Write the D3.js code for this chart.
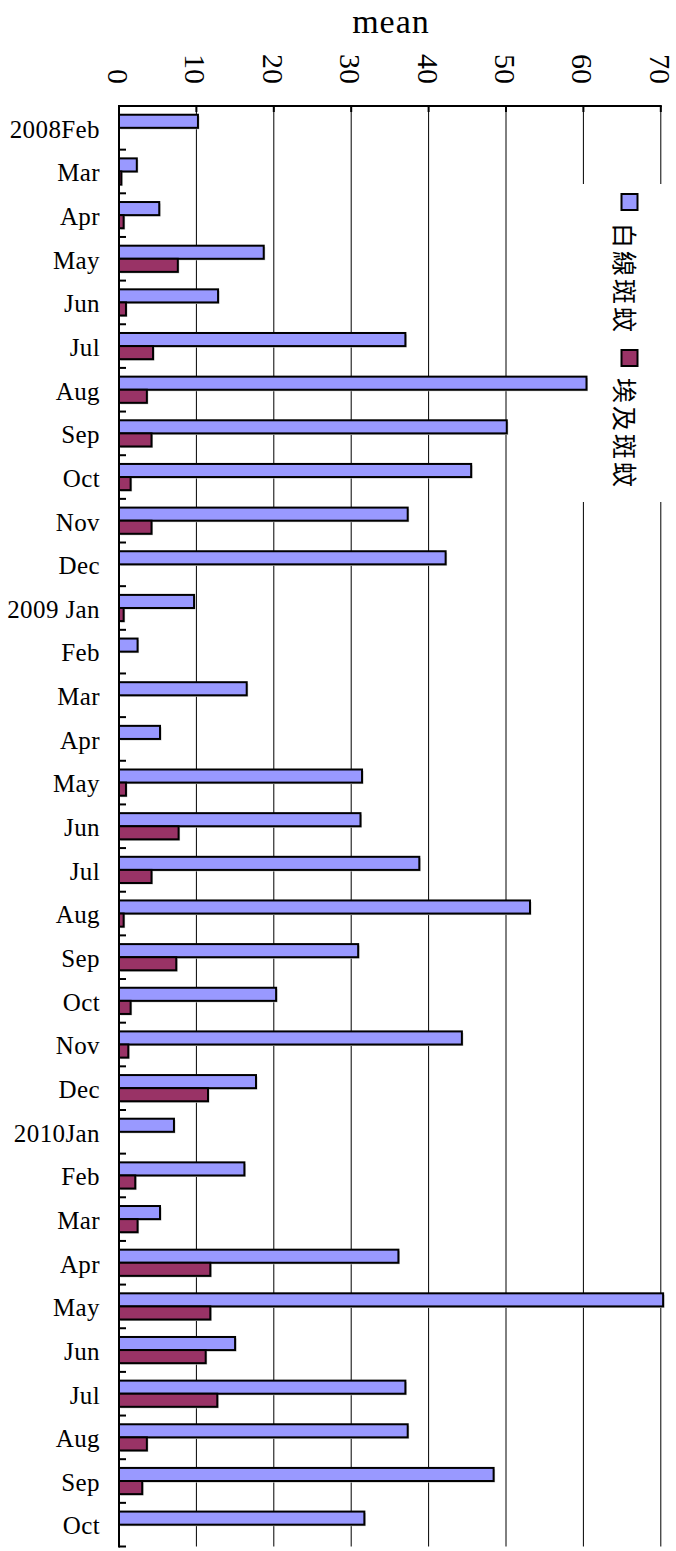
<!DOCTYPE html>
<html>
<head>
<meta charset="utf-8">
<script src="https://cdn.jsdelivr.net/npm/d3@7/dist/d3.min.js"></script>
<style>
  html, body { margin: 0; padding: 0; background: #fff; }
  svg { display: block; }
  .serif { font-family: "Liberation Serif", "DejaVu Serif", serif; fill: #000; }
  .cjk { font-family: "Noto Sans CJK TC", "Noto Sans CJK SC", sans-serif; fill: #000; }
</style>
</head>
<body>
<svg id="chart" width="676" height="1551"></svg>
<script>
// Monthly mean mosquito counts, Feb 2008 – Oct 2010
const months = [
  "2008Feb", "Mar", "Apr", "May", "Jun", "Jul", "Aug", "Sep", "Oct", "Nov", "Dec",
  "2009 Jan", "Feb", "Mar", "Apr", "May", "Jun", "Jul", "Aug", "Sep", "Oct", "Nov", "Dec",
  "2010Jan", "Feb", "Mar", "Apr", "May", "Jun", "Jul", "Aug", "Sep", "Oct"
];
const albopictus = [
  10.2, 2.3, 5.2, 18.7, 12.8, 37.0, 60.4, 50.1, 45.5, 37.3, 42.2,
  9.7, 2.4, 16.5, 5.3, 31.4, 31.2, 38.8, 53.1, 30.9, 20.3, 44.3, 17.7,
  7.1, 16.2, 5.3, 36.1, 70.3, 15.0, 37.0, 37.3, 48.4, 31.7
];
const aegypti = [
  0, 0.3, 0.6, 7.6, 0.9, 4.4, 3.6, 4.2, 1.5, 4.2, 0,
  0.6, 0, 0, 0, 0.9, 7.7, 4.2, 0.6, 7.4, 1.5, 1.2, 11.5,
  0, 2.1, 2.4, 11.8, 11.8, 11.2, 12.7, 3.6, 3.0, 0
];
const seriesNames = ["白線斑蚊", "埃及斑蚊"];
const seriesColors = ["#9999FF", "#993366"];
const valueTicks = [0, 10, 20, 30, 40, 50, 60, 70];
const axisTitle = "mean";

const svg = d3.select("#chart");

const plot = { left: 119, right: 660.8, top: 106, bottom: 1546.5 };

const x = d3.scaleLinear().domain([0, 70]).range([plot.left, plot.right]);
const y = d3.scaleBand().domain(d3.range(months.length)).range([plot.top, plot.bottom]).padding(0);
const band = y.bandwidth();
const barH = band * 0.3;
const barOff = band * 0.2;

// vertical gridlines
svg.append("g")
  .selectAll("line")
  .data(valueTicks)
  .join("line")
  .attr("x1", d => x(d)).attr("x2", d => x(d))
  .attr("y1", plot.top).attr("y2", plot.bottom)
  .attr("stroke", "#000").attr("stroke-width", 1);

// legend backdrop hides the gridlines behind it
svg.append("rect")
  .attr("x", 578).attr("y", 184).attr("width", 92).attr("height", 318)
  .attr("fill", "#fff");

// top value axis: rotated tick labels
const topAxis = d3.axisTop(x).tickValues(valueTicks).tickSize(0).tickPadding(0);
const gTop = svg.append("g").attr("transform", `translate(0,${plot.top})`).call(topAxis);
gTop.select(".domain").remove();
gTop.selectAll(".tick text")
  .attr("class", "serif")
  .attr("font-size", 30)
  .attr("text-anchor", "end")
  .attr("dominant-baseline", "central")
  .attr("transform", "translate(-1,-22) rotate(90)")
  .attr("x", 0).attr("y", 0).attr("dy", null);

// small tick marks along the top edge
svg.append("g")
  .selectAll("line")
  .data(valueTicks)
  .join("line")
  .attr("x1", d => x(d)).attr("x2", d => x(d))
  .attr("y1", plot.top).attr("y2", plot.top + 6)
  .attr("stroke", "#000").attr("stroke-width", 2);

// top frame line
svg.append("line")
  .attr("x1", plot.left - 1).attr("x2", plot.right + 1)
  .attr("y1", plot.top).attr("y2", plot.top)
  .attr("stroke", "#000").attr("stroke-width", 2);

// axis title
svg.append("text")
  .attr("class", "serif")
  .attr("x", 391).attr("y", 33)
  .attr("text-anchor", "middle")
  .attr("font-size", 34)
  .attr("letter-spacing", 1)
  .text(axisTitle);

// bars
const groups = [albopictus, aegypti];
groups.forEach((vals, si) => {
  const g = svg.append("g");
  const data = vals.map((v, i) => ({ v, i })).filter(d => d.v > 0);
  // soft shadow
  g.selectAll("rect.shadow")
    .data(data)
    .join("rect")
    .attr("class", "shadow")
    .attr("x", x(0) + 1.5)
    .attr("y", d => y(d.i) + barOff + si * barH + 1.5)
    .attr("width", d => x(d.v) - x(0))
    .attr("height", barH)
    .attr("fill", "#c8c8c8");
  g.selectAll("rect.bar")
    .data(data)
    .join("rect")
    .attr("class", "bar")
    .attr("x", x(0))
    .attr("y", d => y(d.i) + barOff + si * barH)
    .attr("width", d => x(d.v) - x(0))
    .attr("height", barH)
    .attr("fill", seriesColors[si])
    .attr("stroke", "#000")
    .attr("stroke-width", 2);
});

// left category axis
const leftAxis = d3.axisLeft(y).tickSize(0).tickPadding(0).tickFormat(i => months[i]);
const gLeft = svg.append("g").attr("transform", `translate(${plot.left},0)`).call(leftAxis);
gLeft.select(".domain").remove();
gLeft.selectAll(".tick text")
  .attr("class", "serif")
  .attr("font-size", 25)
  .attr("letter-spacing", 0.4)
  .attr("text-anchor", "end")
  .attr("x", -19)
  .attr("dy", null)
  .attr("y", 9.8);

svg.append("line")
  .attr("x1", plot.left).attr("x2", plot.left)
  .attr("y1", plot.top - 1).attr("y2", plot.bottom + 1)
  .attr("stroke", "#000").attr("stroke-width", 2);

// category boundary ticks pointing inward
svg.append("g")
  .selectAll("line")
  .data(d3.range(1, months.length + 1))
  .join("line")
  .attr("x1", plot.left).attr("x2", plot.left + 7)
  .attr("y1", i => plot.top + i * band).attr("y2", i => plot.top + i * band)
  .attr("stroke", "#000").attr("stroke-width", 2);

// legend, written sideways
const legendItems = [
  { name: seriesNames[0], color: seriesColors[0], sy: 194, ty: 223 },
  { name: seriesNames[1], color: seriesColors[1], sy: 350, ty: 378 }
];
const lg = svg.append("g");
legendItems.forEach(it => {
  lg.append("rect")
    .attr("x", 621.5).attr("y", it.sy)
    .attr("width", 16).attr("height", 16)
    .attr("fill", it.color)
    .attr("stroke", "#000").attr("stroke-width", 2);
  lg.append("text")
    .attr("class", "cjk")
    .attr("font-size", 25)
    .attr("letter-spacing", 3)
    .attr("text-anchor", "start")
    .attr("dominant-baseline", "central")
    .attr("transform", `translate(626,${it.ty}) rotate(90)`)
    .text(it.name);
});
</script>
</body>
</html>
